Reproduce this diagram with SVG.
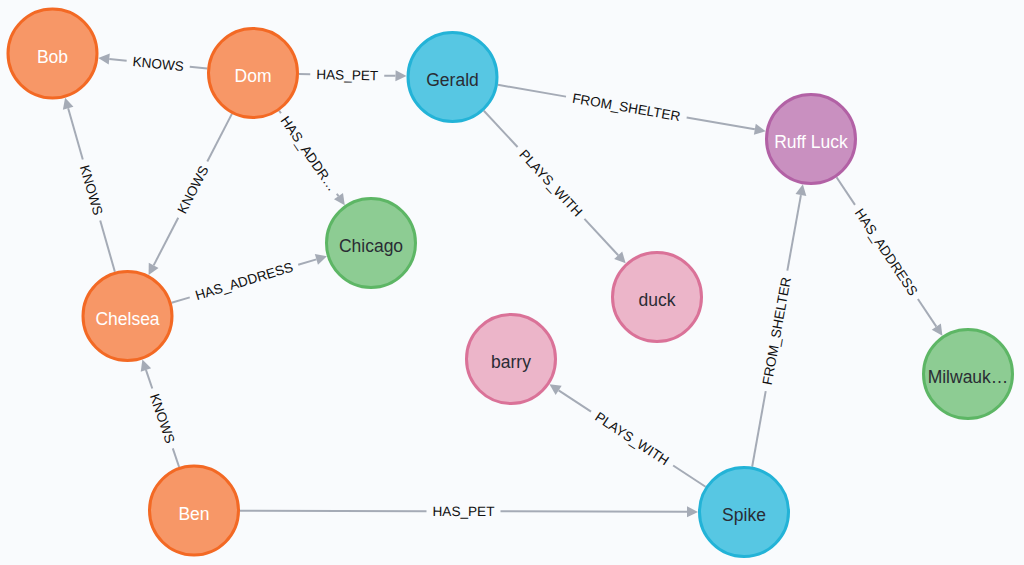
<svg xmlns="http://www.w3.org/2000/svg" width="1024" height="565" viewBox="0 0 1024 565">
<style>
.bg{fill:#F9FBFD}
.edge line{stroke:#A5ABB6;stroke-width:2}
.edge polygon{fill:#A5ABB6}
.edge text{font-family:"Liberation Sans",Arial,sans-serif;font-size:13.6px;fill:#111;text-anchor:middle}
.node circle{stroke-width:3}
.node text{font-family:"Liberation Sans",Arial,sans-serif;font-size:17.5px;text-anchor:middle}
.person circle{fill:#F79767;stroke:#F36924}
.person text{fill:#FFFFFF}
.pet circle{fill:#57C7E3;stroke:#23B3D7}
.pet text{fill:#2A2C34}
.addr circle{fill:#8DCC93;stroke:#5DB665}
.addr text{fill:#2A2C34}
.toy circle{fill:#ECB5C9;stroke:#DA7298}
.toy text{fill:#2A2C34}
.shelter circle{fill:#C990C0;stroke:#B261A5}
.shelter text{fill:#FFFFFF}
</style>
<rect class="bg" x="0" y="0" width="1024" height="565"/>
<g id="connectors">
  <g class="edge" id="e-dom-bob" transform="translate(158.22,63.78) rotate(5.555)">
    <line x1="-49.2" y1="0" x2="-31.7" y2="0"/><line x1="31.7" y1="0" x2="49.2" y2="0"/>
    <polygon points="-49.2,-5.5 -60.2,0 -49.2,5.5"/>
    <text x="0" y="4.8">KNOWS</text>
  </g>
  <g class="edge" id="e-dom-gerald" transform="translate(347.25,74.89) rotate(1.149)">
    <line x1="-48.27" y1="0" x2="-37" y2="0"/><line x1="37" y1="0" x2="48.27" y2="0"/>
    <polygon points="48.27,-5.5 59.27,0 48.27,5.5"/>
    <text x="0" y="4.8">HAS_PET</text>
  </g>
  <g class="edge" id="e-dom-chicago" transform="translate(308.86,153.48) rotate(55.23)">
    <line x1="-51.97" y1="0" x2="-49" y2="0"/><line x1="49" y1="0" x2="51.97" y2="0"/>
    <polygon points="51.97,-5.5 62.97,0 51.97,5.5"/>
    <text x="0" y="4.8">HAS_ADDR…</text>
  </g>
  <g class="edge" id="e-dom-chelsea" transform="translate(192.77,189.61) rotate(-62.68)">
    <line x1="-85.25" y1="0" x2="-31.7" y2="0"/><line x1="31.7" y1="0" x2="85.25" y2="0"/>
    <polygon points="-85.25,-5.5 -96.25,0 -85.25,5.5"/>
    <text x="0" y="4.8">KNOWS</text>
  </g>
  <g class="edge" id="e-chelsea-bob" transform="translate(91.51,190.04) rotate(74.05)">
    <line x1="-85" y1="0" x2="-31.7" y2="0"/><line x1="31.7" y1="0" x2="85" y2="0"/>
    <polygon points="-85,-5.5 -96,0 -85,5.5"/>
    <text x="0" y="4.8">KNOWS</text>
  </g>
  <g class="edge" id="e-chelsea-chicago" transform="translate(243.98,281.08) rotate(-16.69)">
    <line x1="-75.6" y1="0" x2="-56.6" y2="0"/><line x1="56.6" y1="0" x2="75.6" y2="0"/>
    <polygon points="75.6,-5.5 86.6,0 75.6,5.5"/>
    <text x="0" y="4.8">HAS_ADDRESS</text>
  </g>
  <g class="edge" id="e-ben-chelsea" transform="translate(162.53,418.45) rotate(71.13)">
    <line x1="-51.28" y1="0" x2="-31.7" y2="0"/><line x1="31.7" y1="0" x2="51.28" y2="0"/>
    <polygon points="-51.28,-5.5 -62.28,0 -51.28,5.5"/>
    <text x="0" y="4.8">KNOWS</text>
  </g>
  <g class="edge" id="e-ben-spike" transform="translate(463.5,511.24) rotate(0.156)">
    <line x1="-223.5" y1="0" x2="-37" y2="0"/><line x1="37" y1="0" x2="223.5" y2="0"/>
    <polygon points="223.5,-5.5 234.5,0 223.5,5.5"/>
    <text x="0" y="4.8">HAS_PET</text>
  </g>
  <g class="edge" id="e-gerald-ruff" transform="translate(626.33,107.06) rotate(9.81)">
    <line x1="-130.41" y1="0" x2="-61.2" y2="0"/><line x1="61.2" y1="0" x2="130.41" y2="0"/>
    <polygon points="130.41,-5.5 141.41,0 130.41,5.5"/>
    <text x="0" y="4.8">FROM_SHELTER</text>
  </g>
  <g class="edge" id="e-gerald-duck" transform="translate(551,182.97) rotate(47.09)">
    <line x1="-98.68" y1="0" x2="-49.1" y2="0"/><line x1="49.1" y1="0" x2="98.68" y2="0"/>
    <polygon points="98.68,-5.5 109.68,0 98.68,5.5"/>
    <text x="0" y="4.8">PLAYS_WITH</text>
  </g>
  <g class="edge" id="e-ruff-milw" transform="translate(886.44,251.93) rotate(56.25)">
    <line x1="-89.81" y1="0" x2="-56.6" y2="0"/><line x1="56.6" y1="0" x2="89.81" y2="0"/>
    <polygon points="89.81,-5.5 100.81,0 89.81,5.5"/>
    <text x="0" y="4.8">HAS_ADDRESS</text>
  </g>
  <g class="edge" id="e-spike-ruff" transform="translate(776.53,330.9) rotate(-79.82)">
    <line x1="-137.99" y1="0" x2="-61.2" y2="0"/><line x1="61.2" y1="0" x2="137.99" y2="0"/>
    <polygon points="137.99,-5.5 148.99,0 137.99,5.5"/>
    <text x="0" y="4.8">FROM_SHELTER</text>
  </g>
  <g class="edge" id="e-spike-barry" transform="translate(632.1,438.52) rotate(33.29)">
    <line x1="-87.87" y1="0" x2="-49.1" y2="0"/><line x1="49.1" y1="0" x2="87.87" y2="0"/>
    <polygon points="-87.87,-5.5 -98.87,0 -87.87,5.5"/>
    <text x="0" y="4.8">PLAYS_WITH</text>
  </g>
</g>
<g id="node-bob" class="node person"><circle cx="52.5" cy="53.5" r="44.5"/><text x="52.5" y="62.5">Bob</text></g>
<g id="node-dom" class="node person"><circle cx="253" cy="73" r="44.5"/><text x="253" y="82">Dom</text></g>
<g id="node-gerald" class="node pet"><circle cx="452.5" cy="77" r="44.5"/><text x="452.5" y="86">Gerald</text></g>
<g id="node-ruffluck" class="node shelter"><circle cx="811" cy="139" r="44.5"/><text x="811" y="148">Ruff Luck</text></g>
<g id="node-chicago" class="node addr"><circle cx="371" cy="243" r="44.5"/><text x="371" y="252">Chicago</text></g>
<g id="node-chelsea" class="node person"><circle cx="127.5" cy="316" r="44.5"/><text x="127.5" y="325">Chelsea</text></g>
<g id="node-duck" class="node toy"><circle cx="657" cy="297" r="44.5"/><text x="657" y="306">duck</text></g>
<g id="node-barry" class="node toy"><circle cx="511" cy="359" r="44.5"/><text x="511" y="368">barry</text></g>
<g id="node-milwaukee" class="node addr"><circle cx="968" cy="374" r="44.5"/><text x="968" y="383">Milwauk…</text></g>
<g id="node-ben" class="node person"><circle cx="194" cy="510.5" r="44.5"/><text x="194" y="519.5">Ben</text></g>
<g id="node-spike" class="node pet"><circle cx="744" cy="512" r="44.5"/><text x="744" y="521">Spike</text></g>
</svg>
